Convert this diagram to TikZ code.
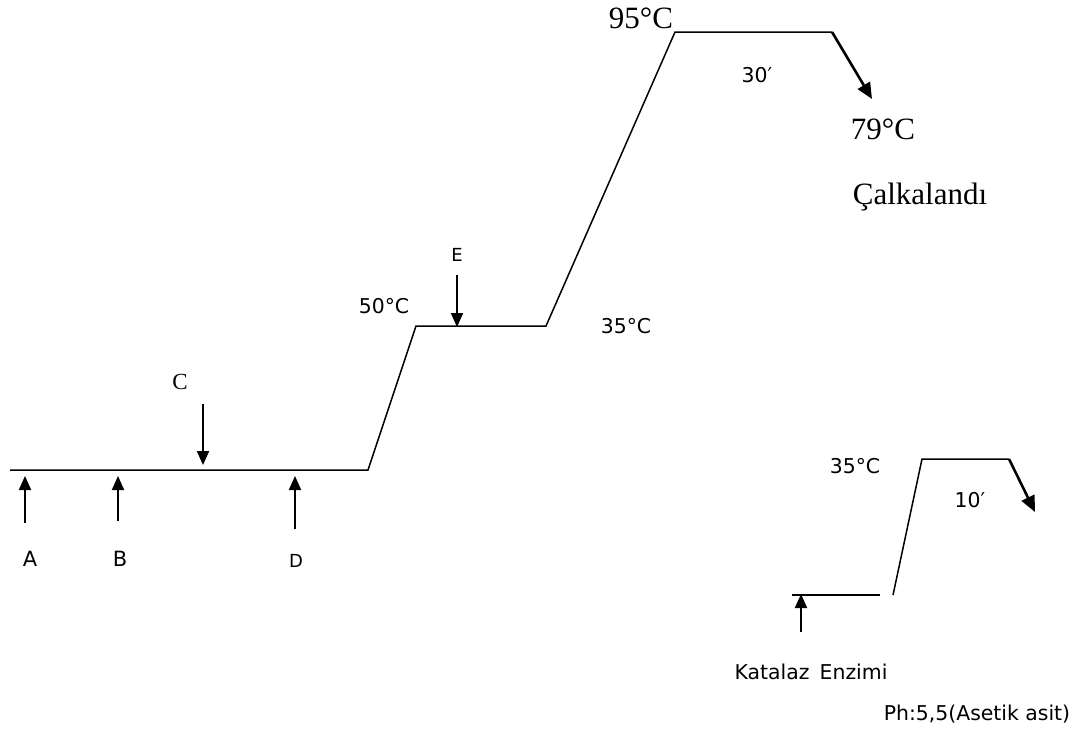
\documentclass[tikz,border=0pt]{standalone}
\usepackage{fontspec}
\setmainfont{Liberation Serif}
\setsansfont{DejaVu Sans}
\usetikzlibrary{arrows.meta,positioning}

\tikzset{
  lbl/.style={font=\sffamily\fontsize{10.2}{12}\selectfont, inner sep=0pt},
  big lbl/.style={font=\sffamily\fontsize{10.5}{12}\selectfont, inner sep=0pt},
  small lbl/.style={font=\sffamily\fontsize{9}{10}\selectfont, inner sep=0pt},
  temp/.style={font=\rmfamily\fontsize{15.5}{17}\selectfont, inner sep=0pt},
  profile/.style={line width=0.75pt},
  feed/.style={line width=1pt, -{Triangle[length=7pt,width=6pt]}},
  cooling/.style={line width=1.3pt, -{Triangle[length=8pt,width=7pt]}}
}

\begin{document}
\begin{tikzpicture}[x=0.5pt,y=-0.5pt]
  \useasboundingbox (0,0) rectangle (1086,735);

  % Main temperature profile
  \coordinate (start) at (10,470);
  \coordinate (ramp1) at (368,470);
  \coordinate (hold1) at (416,326);
  \coordinate (hold1end) at (546,326);
  \coordinate (hold2) at (675,32);
  \coordinate (hold2end) at (832,32);
  \coordinate (cool) at (872,99);

  \draw[profile]
    (start) -- (ramp1) -- (hold1) -- (hold1end) -- (hold2) -- (hold2end);
  \draw[cooling] (hold2end) -- (cool);

  % Additions
  \node[big lbl] (A) at (30,559) {A};
  \node[big lbl] (B) at (120,559) {B};
  \node[small lbl] (D) at (296,561) {D};
  \node[font=\rmfamily\fontsize{11.5}{13}\selectfont, inner sep=0pt]
    (C) at (180,382) {C};
  \node[small lbl] (E) at (457,255) {E};

  \coordinate (Atail) at (25,523);
  \coordinate (Atip) at (25,476);
  \coordinate (Btail) at (118,521);
  \coordinate (Btip) at (118,476);
  \coordinate (Dtail) at (295,529);
  \coordinate (Dtip) at (295,476);
  \coordinate (Ctail) at (203,404);
  \coordinate (Ctip) at (203,465);
  \coordinate (Etail) at (457,275);
  \coordinate (Etip) at (457,327);

  \draw[feed] (Atail) -- (Atip);
  \draw[feed] (Btail) -- (Btip);
  \draw[feed] (Dtail) -- (Dtip);
  \draw[feed] (Ctail) -- (Ctip);
  \draw[feed] (Etail) -- (Etip);

  % Temperatures and times
  \node[lbl] (t50) at (384,306) {50°C};
  \node[lbl] (t35a) at (626,326) {35°C};
  \node[temp] (t95) at (641,18) {95°C};
  \node[lbl] (min30) at (757,75) {30′};
  \node[temp] (t79) at (883,129) {79°C};
  \node[temp] (shake) at (920,197) {Çalkalandı};

  % Second (enzyme) profile
  \coordinate (estart) at (792,595);
  \coordinate (eend) at (880,595);
  \coordinate (eramp) at (893,595);
  \coordinate (ehold) at (922,459);
  \coordinate (eholdend) at (1009,459);
  \coordinate (ecool) at (1035,512);

  \draw[profile] (estart) -- (eend);
  \draw[profile] (eramp) -- (ehold) -- (eholdend);
  \draw[cooling] (eholdend) -- (ecool);

  \coordinate (Ktail) at (801,632);
  \coordinate (Ktip) at (801,594);
  \draw[feed] (Ktail) -- (Ktip);

  \node[lbl] (t35b) at (855,466) {35°C};
  \node[lbl] (min10) at (970,500) {10′};
  \node[lbl] (enzyme) at (811,672) {Katalaz\hspace{0.5em}Enzimi};
  \node[lbl] (ph) at (977,714) {Ph:5,5(Asetik asit)};
\end{tikzpicture}
\end{document}
